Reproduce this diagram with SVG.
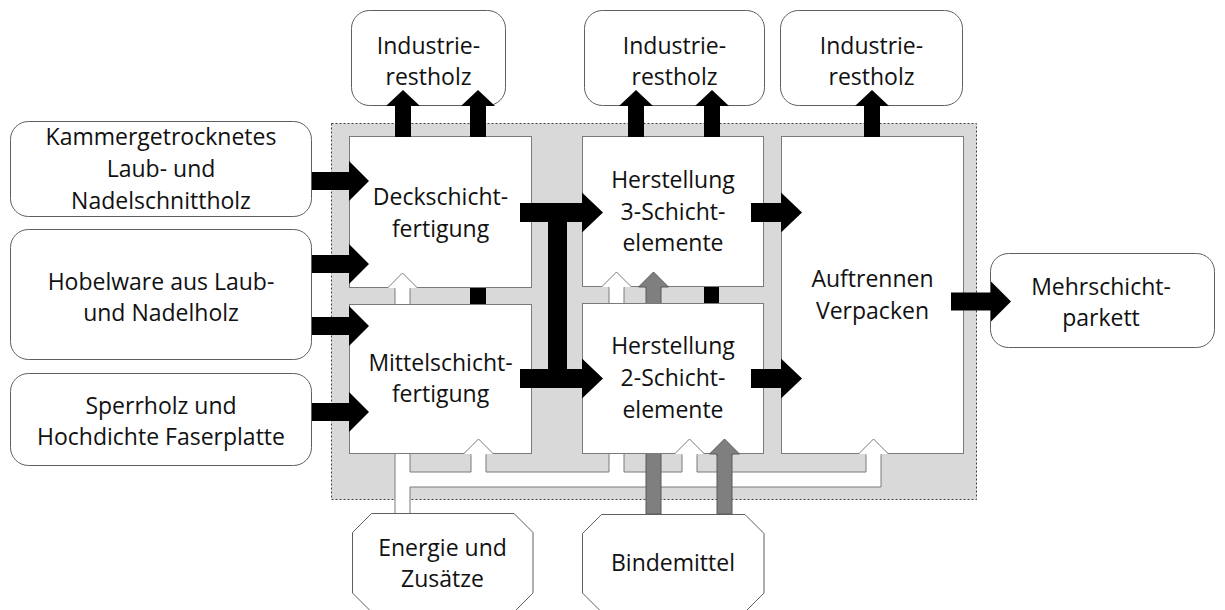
<svg xmlns="http://www.w3.org/2000/svg" width="1225" height="610" viewBox="0 0 1225 610">
<style>
.t{font-family:"Open Sans","Liberation Sans",sans-serif;font-size:23px;fill:#111;text-anchor:middle}
.rbox{fill:#fff;stroke:#5f5f5f;stroke-width:1}
.pbox{fill:#fff;stroke:#7a7a7a;stroke-width:1}
.blk{fill:#000}
.pipe{fill:#fff;stroke:#7a7a7a;stroke-width:1}
.pfill{fill:#fff;stroke:none}
.pline{fill:none;stroke:#7a7a7a;stroke-width:1}
.gpipe{fill:#7f7f7f;stroke:#5a5a5a;stroke-width:1}
.gfill{fill:#7f7f7f;stroke:none}
.gline{fill:none;stroke:#5a5a5a;stroke-width:1}
</style>
<rect width="1225" height="610" fill="#fff"/>
<rect id="system" x="331.5" y="123.5" width="645" height="376" fill="#d9d9d9" stroke="#404040" stroke-width="1" stroke-dasharray="2,2"/>

<g id="connectors-under">
<polygon class="pipe" points="395,513.5 395,288 410,288 410,472 471,472 471,454 486,454 486,472 609,472 609,287 624,287 624,472 682,472 682,454 697,454 697,472 866,472 866,454 881,454 881,487 410,487 410,513.5"/>
<rect class="gpipe" x="646" y="287" width="15" height="227"/>
<rect class="gpipe" x="717" y="454" width="15" height="60"/>
</g>

<g id="n-in1"><rect class="rbox" x="10.5" y="121.5" width="301" height="95" rx="18"/>
<text class="t" x="161" y="145">Kammergetrocknetes</text><text class="t" x="161" y="177">Laub- und</text><text class="t" x="161" y="209">Nadelschnittholz</text></g>
<g id="n-in2"><rect class="rbox" x="10.5" y="229.5" width="301" height="130" rx="18"/>
<text class="t" x="161" y="290">Hobelware aus Laub-</text><text class="t" x="161" y="321">und Nadelholz</text></g>
<g id="n-in3"><rect class="rbox" x="10.5" y="373.5" width="301" height="92" rx="18"/>
<text class="t" x="161" y="414">Sperrholz und</text><text class="t" x="161" y="445">Hochdichte Faserplatte</text></g>

<g id="n-out1"><rect class="rbox" x="351.5" y="10.5" width="154" height="95" rx="18"/>
<text class="t" x="428.5" y="53.5">Industrie-</text><text class="t" x="428.5" y="85">restholz</text></g>
<g id="n-out2"><rect class="rbox" x="584.5" y="10.5" width="180" height="95" rx="18"/>
<text class="t" x="674.5" y="53.5">Industrie-</text><text class="t" x="674.5" y="85">restholz</text></g>
<g id="n-out3"><rect class="rbox" x="780.5" y="10.5" width="182" height="95" rx="18"/>
<text class="t" x="871.5" y="53.5">Industrie-</text><text class="t" x="871.5" y="85">restholz</text></g>
<g id="n-product"><rect class="rbox" x="990.5" y="253.5" width="224" height="94" rx="18"/>
<text class="t" x="1101" y="295">Mehrschicht-</text><text class="t" x="1101" y="326">parkett</text></g>

<g id="n-deck"><rect class="pbox" x="349.5" y="136.5" width="182" height="151"/>
<text class="t" x="440.5" y="205">Deckschicht-</text><text class="t" x="440.5" y="237">fertigung</text></g>
<g id="n-mittel"><rect class="pbox" x="349.5" y="304.5" width="182" height="149"/>
<text class="t" x="440.5" y="371">Mittelschicht-</text><text class="t" x="440.5" y="402">fertigung</text></g>
<g id="n-h3"><rect class="pbox" x="582.5" y="136.5" width="181" height="150"/>
<text class="t" x="673" y="188">Herstellung</text><text class="t" x="673" y="220">3-Schicht-</text><text class="t" x="673" y="251">elemente</text></g>
<g id="n-h2"><rect class="pbox" x="582.5" y="303.5" width="181" height="150"/>
<text class="t" x="673" y="354">Herstellung</text><text class="t" x="673" y="386">2-Schicht-</text><text class="t" x="673" y="418">elemente</text></g>
<g id="n-auf"><rect class="pbox" x="781.5" y="136.5" width="182" height="317"/>
<text class="t" x="872.5" y="287">Auftrennen</text><text class="t" x="872.5" y="319">Verpacken</text></g>

<g id="n-energie"><polygon class="rbox" points="371.5,513.5 514,513.5 533,532.5 533,593 514,612 371.5,612 352.5,593 352.5,532.5"/>
<text class="t" x="442.5" y="556">Energie und</text><text class="t" x="442.5" y="587">Zusätze</text></g>
<g id="n-binde"><polygon class="rbox" points="601.5,514.5 745,514.5 764,533.5 764,593 745,612 601.5,612 582.5,593 582.5,533.5"/>
<text class="t" x="673" y="571">Bindemittel</text></g>

<g id="connectors">
<path class="pfill" d="M395.5,289.5 V288 H387.5 L402.5,273 L417.5,288 H409.5 V289.5 Z"/>
<path class="pline" d="M387.5,288 L402.5,273 L417.5,288"/>
<path class="pfill" d="M471.5,455.5 V454 H463.5 L478.5,439 L493.5,454 H485.5 V455.5 Z"/>
<path class="pline" d="M463.5,454 L478.5,439 L493.5,454"/>
<path class="pfill" d="M609.5,288.5 V287 H601.5 L616.5,272 L631.5,287 H623.5 V288.5 Z"/>
<path class="pline" d="M601.5,287 L616.5,272 L631.5,287"/>
<path class="pfill" d="M682.5,455.5 V454 H674.5 L689.5,439 L704.5,454 H696.5 V455.5 Z"/>
<path class="pline" d="M674.5,454 L689.5,439 L704.5,454"/>
<path class="pfill" d="M866.5,455.5 V454 H858.5 L873.5,439 L888.5,454 H880.5 V455.5 Z"/>
<path class="pline" d="M858.5,454 L873.5,439 L888.5,454"/>
<path class="gfill" d="M646.5,288.5 V287 H638.5 L653.5,272 L668.5,287 H660.5 V288.5 Z"/>
<path class="gline" d="M646,288.5 V287 H638.5 L653.5,272 L668.5,287 H661 V288.5"/>
<path class="gfill" d="M717.5,455.5 V454 H709.5 L724.5,439 L739.5,454 H731.5 V455.5 Z"/>
<path class="gline" d="M717,455.5 V454 H709.5 L724.5,439 L739.5,454 H732 V455.5"/>
<polygon class="blk" points="312,172 349,172 349,161 369,181 349,201 349,190 312,190"/>
<polygon class="blk" points="312,255 349,255 349,244 369,264 349,284 349,273 312,273"/>
<polygon class="blk" points="312,317 349,317 349,306 369,326 349,346 349,335 312,335"/>
<polygon class="blk" points="312,403 349,403 349,392 369,412 349,432 349,421 312,421"/>
<path class="blk" d="M520,203 L582,203 L582,192.5 L603,212.5 L582,232.5 L582,222 L567,222 L567,369 L582,369 L582,358.5 L603,378.5 L582,398.5 L582,388 L520,388 L520,369 L548,369 L548,222 L520,222 Z"/>
<polygon class="blk" points="751,203 781,203 781,192.5 802,212.5 781,232.5 781,222 751,222"/>
<polygon class="blk" points="751,369 781,369 781,358.5 802,378.5 781,398.5 781,388 751,388"/>
<polygon class="blk" points="951,292.5 991,292.5 991,281.5 1011,301.5 991,321.5 991,310.5 951,310.5"/>
<polygon class="blk" points="395,137 395,106 386,106 403,90 420,106 411,106 411,137"/>
<polygon class="blk" points="470,137 470,106 461,106 478,90 495,106 486,106 486,137"/>
<polygon class="blk" points="628,137 628,106 619,106 636,90 653,106 644,106 644,137"/>
<polygon class="blk" points="704,137 704,106 695,106 712,90 729,106 720,106 720,137"/>
<polygon class="blk" points="864,137 864,106 855,106 872,90 889,106 880,106 880,137"/>
<rect class="blk" x="470" y="288" width="16" height="16"/>
<rect class="blk" x="704" y="287" width="15" height="16"/>
</g>
</svg>
